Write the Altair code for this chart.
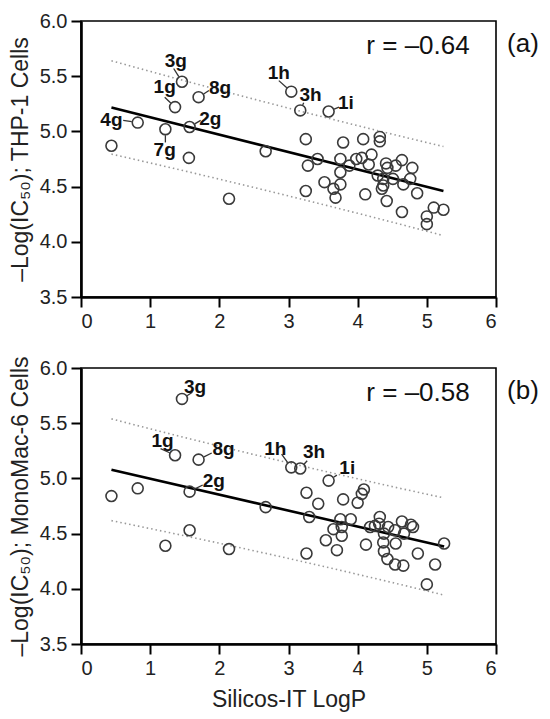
import altair as alt
import numpy as np
import pandas as pd

# ---------------- data ----------------
thp_x = [1.46, 1.36, 1.70, 0.82, 1.22, 1.57, 0.44, 1.56, 2.14, 2.67, 3.04, 3.17, 3.58,
         3.25, 3.79, 4.08, 4.32, 4.32, 3.42, 3.28, 3.75, 3.98, 4.06, 4.20, 4.16, 3.88,
         3.75, 4.41, 4.55, 4.64, 4.79, 4.43, 4.29, 4.76, 4.37, 4.51, 4.66, 4.37, 3.52,
         3.75, 3.65, 3.68, 3.25, 4.11, 4.35, 4.86, 4.42, 4.64, 5.10, 5.24, 5.00, 5.00]
thp_y = [5.45, 5.22, 5.31, 5.08, 5.02, 5.04, 4.87, 4.76, 4.39, 4.82, 5.36, 5.19, 5.18,
         4.93, 4.90, 4.93, 4.95, 4.91, 4.75, 4.69, 4.75, 4.75, 4.76, 4.79, 4.70, 4.69,
         4.63, 4.71, 4.69, 4.74, 4.67, 4.67, 4.60, 4.57, 4.57, 4.57, 4.52, 4.51, 4.54,
         4.52, 4.48, 4.40, 4.46, 4.43, 4.48, 4.44, 4.37, 4.27, 4.31, 4.29, 4.23, 4.16]

mm6_x = [1.46, 1.36, 1.70, 0.82, 1.22, 1.57, 0.44, 1.57, 2.14, 2.67, 3.04, 3.17, 3.58,
         3.26, 3.43, 3.79, 4.09, 4.06, 4.00, 3.30, 3.75, 3.90, 3.65, 3.77, 3.77, 3.54,
         3.26, 3.70, 4.12, 4.32, 4.18, 4.31, 4.44, 4.64, 4.77, 4.80, 4.54, 4.38, 4.67,
         4.37, 4.55, 4.38, 4.43, 4.54, 4.66, 4.87, 5.12, 5.25, 5.00, 4.25]
mm6_y = [5.72, 5.21, 5.17, 4.91, 4.39, 4.88, 4.84, 4.53, 4.36, 4.74, 5.10, 5.09, 4.98,
         4.87, 4.77, 4.81, 4.90, 4.86, 4.78, 4.65, 4.63, 4.63, 4.54, 4.56, 4.48, 4.44,
         4.32, 4.35, 4.40, 4.65, 4.56, 4.59, 4.56, 4.61, 4.58, 4.56, 4.53, 4.50, 4.50,
         4.42, 4.41, 4.34, 4.27, 4.22, 4.21, 4.32, 4.22, 4.41, 4.04, 4.57]

# labelled compounds: name, point, text centre, leader start (data units)
thp_lab_names = ["3g", "1g", "8g", "4g", "7g", "2g", "1h", "3h", "1i"]
thp_lab_px = [1.46, 1.36, 1.70, 0.82, 1.22, 1.57, 3.04, 3.17, 3.58]
thp_lab_py = [5.45, 5.22, 5.31, 5.08, 5.02, 5.04, 5.36, 5.19, 5.18]
thp_lab_tx = [1.37, 1.21, 2.01, 0.44, 1.21, 1.87, 2.86, 3.32, 3.83]
thp_lab_ty = [5.64, 5.40, 5.39, 5.10, 4.83, 5.11, 5.53, 5.33, 5.26]
thp_lab_sx = [1.34, 1.21, 1.85, 0.61, 1.22, 1.73, 2.86, 3.22, 3.73]
thp_lab_sy = [5.57, 5.31, 5.37, 5.10, 4.90, 5.10, 5.46, 5.26, 5.22]

mm6_lab_names = ["3g", "1g", "8g", "2g", "1h", "3h", "1i"]
mm6_lab_px = [1.46, 1.36, 1.70, 1.57, 3.04, 3.17, 3.58]
mm6_lab_py = [5.72, 5.21, 5.17, 4.88, 5.10, 5.09, 4.98]
mm6_lab_tx = [1.65, 1.18, 2.06, 1.92, 2.81, 3.37, 3.85]
mm6_lab_ty = [5.825, 5.34, 5.27, 4.98, 5.27, 5.24, 5.09]
mm6_lab_sx = [1.61, 1.15, 1.89, 1.76, 2.90, 3.27, 3.70]
mm6_lab_sy = [5.78, 5.27, 5.23, 4.94, 5.22, 5.16, 5.03]

x_ticks = [0, 1, 2, 3, 4, 5, 6]
y_ticks = [3.5, 4.0, 4.5, 5.0, 5.5, 6.0]

W, H = 415, 276
FONT = "Liberation Sans"
XDOM = [0, 6]
YDOM = [3.5, 6.0]
R_PX = 6.0
T_PRED = 1.676  # 90% prediction band


def fit_frames(xs, ys):
    x = np.asarray(xs, float)
    y = np.asarray(ys, float)
    n = len(x)
    b, a = np.polyfit(x, y, 1)
    resid = y - (a + b * x)
    s = np.sqrt(np.sum(resid ** 2) / (n - 2))
    xm = x.mean()
    sxx = np.sum((x - xm) ** 2)
    grid = np.linspace(x.min(), x.max(), 60)
    pred = a + b * grid
    half = T_PRED * s * np.sqrt(1 + 1 / n + (grid - xm) ** 2 / sxx)
    band = pd.DataFrame({"x": grid, "lo": pred - half, "hi": pred + half})
    line = pd.DataFrame({"x": [x.min(), x.max()], "y": [a + b * x.min(), a + b * x.max()]})
    return line, band


def leader_frame(names, px, py, tx, ty, sx, sy):
    kx = W / (XDOM[1] - XDOM[0])
    ky = H / (YDOM[1] - YDOM[0])
    ex, ey = [], []
    for x0, y0, x1, y1 in zip(px, py, sx, sy):
        dx = (x1 - x0) * kx
        dy = (y1 - y0) * ky
        d = max(np.hypot(dx, dy), 1e-6)
        ex.append(x0 + (x1 - x0) * R_PX / d)
        ey.append(y0 + (y1 - y0) * R_PX / d)
    return pd.DataFrame({"name": names, "tx": tx, "ty": ty, "sx": sx, "sy": sy,
                         "ex": ex, "ey": ey})


def panel(xs, ys, lab, r_text, tag, ytitle, xtitle):
    pts = pd.DataFrame({"x": xs, "y": ys})
    line, band = fit_frames(xs, ys)
    xsc = alt.Scale(domain=XDOM, nice=False)
    ysc = alt.Scale(domain=YDOM, nice=False)
    xaxis = alt.Axis(values=x_ticks, format="d")
    yaxis = alt.Axis(values=y_ticks, format=".1f")
    if xtitle:
        X = alt.X("x:Q", scale=xsc, axis=xaxis, title=xtitle)
    else:
        X = alt.X("x:Q", scale=xsc, axis=xaxis, title=None)
    Y = alt.Y("y:Q", scale=ysc, axis=yaxis, title=ytitle)

    base_b = alt.Chart(band)
    hi = base_b.mark_line(color="#999999", strokeDash=[1.5, 3], strokeWidth=1.6).encode(
        x=alt.X("x:Q", scale=xsc), y=alt.Y("hi:Q", scale=ysc))
    lo = base_b.mark_line(color="#999999", strokeDash=[1.5, 3], strokeWidth=1.6).encode(
        x=alt.X("x:Q", scale=xsc), y=alt.Y("lo:Q", scale=ysc))
    fit = alt.Chart(line).mark_line(color="black", strokeWidth=2.6).encode(x=X, y=Y)
    dots = alt.Chart(pts).mark_point(shape="circle", filled=False, size=120,
                                     color="#3a3a3a", strokeWidth=1.6, opacity=1).encode(x=X, y=Y)
    lead = alt.Chart(lab).mark_rule(color="#333333", strokeWidth=1.3).encode(
        x=alt.X("sx:Q", scale=xsc), y=alt.Y("sy:Q", scale=ysc), x2="ex:Q", y2="ey:Q")
    txt = alt.Chart(lab).mark_text(font=FONT, fontWeight="bold", fontSize=19, color="#111111",
                                   align="center", baseline="middle").encode(
        x=alt.X("tx:Q", scale=xsc), y=alt.Y("ty:Q", scale=ysc), text="name:N")
    ann = pd.DataFrame({"t": [r_text], "x": [5.62], "y": [5.70], "tag": [tag]})
    rt = alt.Chart(ann).mark_text(font=FONT, fontSize=26, color="#111111", align="right",
                                  baseline="alphabetic").encode(
        x=alt.X("x:Q", scale=xsc), y=alt.Y("y:Q", scale=ysc), text="t:N")
    tg = alt.Chart(ann).mark_text(font=FONT, fontSize=26, color="#111111", align="center",
                                  baseline="middle").encode(
        x=alt.value(W + 27), y=alt.value(23), text="tag:N")
    return alt.layer(hi, lo, fit, dots, lead, txt, rt, tg).properties(width=W, height=H)


top = panel(thp_x, thp_y,
            leader_frame(thp_lab_names, thp_lab_px, thp_lab_py, thp_lab_tx, thp_lab_ty,
                         thp_lab_sx, thp_lab_sy),
            "r = \u20130.64", "(a)", "\u2013Log(IC\u2085\u2080); THP-1 Cells", None)
bot = panel(mm6_x, mm6_y,
            leader_frame(mm6_lab_names, mm6_lab_px, mm6_lab_py, mm6_lab_tx, mm6_lab_ty,
                         mm6_lab_sx, mm6_lab_sy),
            "r = \u20130.58", "(b)", "\u2013Log(IC\u2085\u2080); MonoMac-6 Cells", "Silicos-IT LogP")

chart = alt.vconcat(top, bot, spacing=23).properties(
    padding={"left": 0, "top": 2, "right": 0, "bottom": 0}
).configure_view(stroke="black", strokeWidth=1.6).configure_axis(
    grid=False, domainColor="black", domainWidth=2.6, tickColor="black", tickWidth=2,
    tickSize=10, labelFont=FONT, labelFontSize=20, labelColor="#222222", labelPadding=4,
    titleFont=FONT, titleFontSize=23, titleFontWeight="normal", titleColor="#222222"
).configure_axisY(titlePadding=7).configure_axisX(titlePadding=10)

chart.save("out.html", embed_options={"renderer": "svg", "actions": False})
